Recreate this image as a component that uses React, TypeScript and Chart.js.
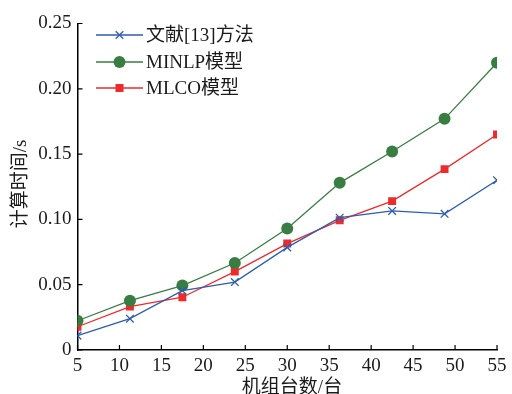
import React, { useEffect, useRef } from "react";
import { Chart, registerables } from "chart.js";

Chart.register(...registerables);

const unitCounts = [5, 11.25, 17.5, 23.75, 30, 36.25, 42.5, 48.75, 55];
const ref13Times = [0.011, 0.024, 0.0455, 0.052, 0.0786, 0.1013, 0.1065, 0.1043, 0.13];
const minlpTimes = [0.0224, 0.0378, 0.0493, 0.0666, 0.093, 0.128, 0.152, 0.177, 0.22];
const mlcoTimes = [0.0178, 0.0332, 0.0404, 0.06, 0.0815, 0.0993, 0.114, 0.1385, 0.165];
const seriesLabels = ["文献[13]方法", "MINLP模型", "MLCO模型"];
const xTickValues = [5, 10, 15, 20, 25, 30, 35, 40, 45, 50, 55];
const yTickValues = [0, 0.05, 0.1, 0.15, 0.2, 0.25];
const xTitle = "机组台数/台";
const yTitle = "计算时间/s";

const FONT = "'Liberation Serif', 'Times New Roman', 'Noto Sans CJK SC', serif";
const BLUE = "#2d5db0";
const GREEN = "#3a7d42";
const RED = "#ee2a2c";

function drawMarker(ctx: CanvasRenderingContext2D, style: string, x: number, y: number, color: string) {
  ctx.save();
  ctx.fillStyle = color;
  ctx.strokeStyle = color;
  if (style === "crossRot") {
    const d = 3.8;
    ctx.lineWidth = 1.3;
    ctx.beginPath();
    ctx.moveTo(x - d, y - d);
    ctx.lineTo(x + d, y + d);
    ctx.moveTo(x + d, y - d);
    ctx.lineTo(x - d, y + d);
    ctx.stroke();
  } else if (style === "circle") {
    ctx.beginPath();
    ctx.arc(x, y, 6, 0, Math.PI * 2);
    ctx.fill();
  } else {
    ctx.fillRect(x - 4, y - 4, 8, 8);
  }
  ctx.restore();
}

const decorPlugin = {
  id: "decor",
  afterDraw(chart: any) {
    const ctx: CanvasRenderingContext2D = chart.ctx;
    const xs = chart.scales.x;
    const ys = chart.scales.y;
    const area = chart.chartArea;
    ctx.save();
    ctx.strokeStyle = "#000";
    ctx.lineWidth = 1.2;
    ctx.beginPath();
    for (const v of xTickValues) {
      const px = xs.getPixelForValue(v);
      ctx.moveTo(px, area.bottom);
      ctx.lineTo(px, area.bottom - 5);
    }
    for (const v of yTickValues) {
      const py = ys.getPixelForValue(v);
      ctx.moveTo(area.left, py);
      ctx.lineTo(area.left + 5, py);
    }
    ctx.stroke();

    // legend
    const rows = [35, 62, 88];
    chart.data.datasets.forEach((ds: any, i: number) => {
      const y = rows[i];
      ctx.strokeStyle = ds.borderColor;
      ctx.lineWidth = 1.3;
      ctx.beginPath();
      ctx.moveTo(96, y);
      ctx.lineTo(143, y);
      ctx.stroke();
      drawMarker(ctx, ds.pointStyle, 119.5, y, ds.borderColor);
      ctx.fillStyle = "#1a1a1a";
      ctx.font = `19px ${FONT}`;
      ctx.textAlign = "left";
      ctx.textBaseline = "middle";
      ctx.fillText(ds.label, 146, y + 1);
    });

    // titles
    ctx.fillStyle = "#1a1a1a";
    ctx.font = `19px ${FONT}`;
    ctx.textAlign = "center";
    ctx.textBaseline = "middle";
    ctx.fillText(xTitle, 292, 388);
    ctx.save();
    ctx.translate(21, 184);
    ctx.rotate(-Math.PI / 2);
    ctx.fillText(yTitle, 0, 0);
    ctx.restore();
    ctx.restore();
  },
};

export default function App() {
  const canvasRef = useRef<HTMLCanvasElement | null>(null);

  useEffect(() => {
    if (!canvasRef.current) return;
    const mk = (vals: number[]) => unitCounts.map((x, i) => ({ x, y: vals[i] }));
    const chart = new Chart(canvasRef.current, {
      type: "line",
      data: {
        datasets: [
          {
            label: seriesLabels[0],
            data: mk(ref13Times),
            borderColor: BLUE,
            backgroundColor: BLUE,
            borderWidth: 1.3,
            pointStyle: "crossRot",
            pointRadius: 5.4,
            pointBorderWidth: 1.3,
          },
          {
            label: seriesLabels[1],
            data: mk(minlpTimes),
            borderColor: GREEN,
            backgroundColor: GREEN,
            borderWidth: 1.3,
            pointStyle: "circle",
            pointRadius: 6,
            pointBorderWidth: 0,
          },
          {
            label: seriesLabels[2],
            data: mk(mlcoTimes),
            borderColor: RED,
            backgroundColor: RED,
            borderWidth: 1.3,
            pointStyle: "rect",
            pointRadius: 5.6,
            pointBorderWidth: 0,
          },
        ],
      },
      options: {
        animation: false,
        responsive: false,
        maintainAspectRatio: false,
        layout: { padding: { left: 0, right: 15, top: 23.5, bottom: 0 } },
        plugins: { legend: { display: false }, tooltip: { enabled: false } },
        elements: { line: { tension: 0 } },
        scales: {
          x: {
            type: "linear",
            min: 5,
            max: 55,
            afterBuildTicks: (s: any) => {
              s.ticks = xTickValues.map((v) => ({ value: v }));
            },
            afterFit: (s: any) => {
              s.height = 44;
            },
            grid: { display: false, drawTicks: false },
            border: { display: true, color: "#000", width: 1.5 },
            ticks: {
              color: "#1a1a1a",
              font: { family: FONT, size: 19 },
              padding: 5,
              maxRotation: 0,
              autoSkip: false,
            },
          },
          y: {
            type: "linear",
            min: 0,
            max: 0.25,
            afterBuildTicks: (s: any) => {
              s.ticks = yTickValues.map((v) => ({ value: v }));
            },
            afterFit: (s: any) => {
              s.width = 77.5;
            },
            grid: { display: false, drawTicks: false },
            border: { display: true, color: "#000", width: 1.5 },
            ticks: {
              color: "#1a1a1a",
              font: { family: FONT, size: 19 },
              padding: 6,
              callback: (v: any) => (Number(v) === 0 ? "0" : Number(v).toFixed(2)),
            },
          },
        },
      },
      plugins: [decorPlugin],
    });
    return () => chart.destroy();
  }, []);

  return (
    <div style={{ position: "fixed", left: 0, top: 0, width: 512, height: 394, background: "#fff" }}>
      <canvas ref={canvasRef} width={512} height={394} style={{ width: 512, height: 394, display: "block" }} />
    </div>
  );
}
